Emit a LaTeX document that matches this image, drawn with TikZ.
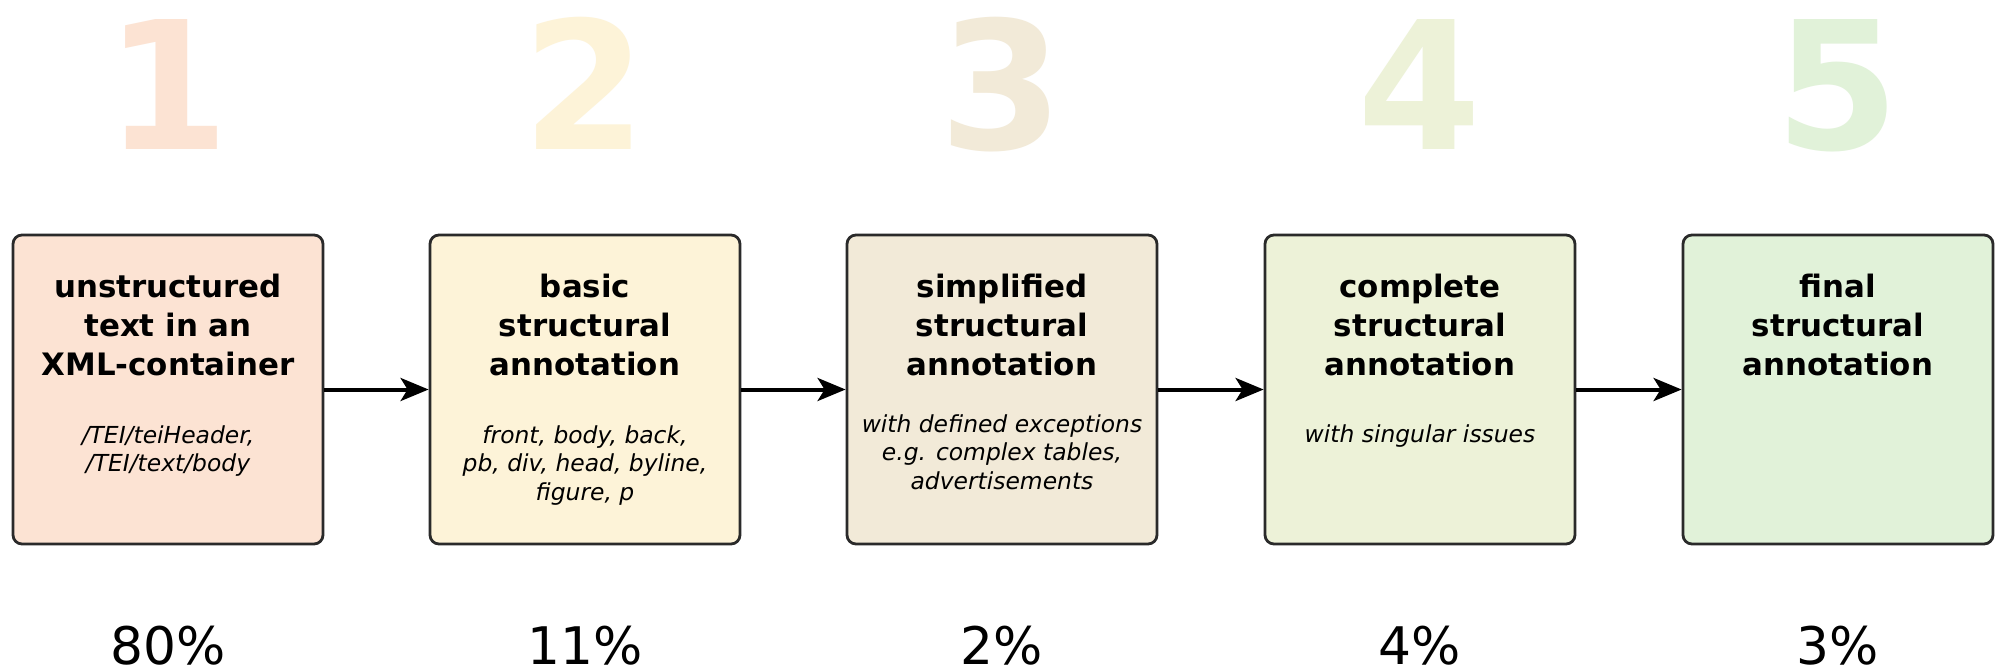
\documentclass[tikz,border=0pt]{standalone}
\usepackage{fontspec}
\setmainfont{DejaVu Sans}
\usetikzlibrary{arrows.meta}
\definecolor{c1}{HTML}{FCE3D3}
\definecolor{c2}{HTML}{FDF3D8}
\definecolor{c3}{HTML}{F2EAD8}
\definecolor{c4}{HTML}{EDF2D8}
\definecolor{c5}{HTML}{E1F2D9}
\definecolor{edge}{HTML}{2A2A2A}
\begin{document}
\begin{tikzpicture}[x=1bp,y=-1bp,
  stage/.style={draw=edge, line width=2.8bp, rounded corners=9bp, minimum width=310bp, minimum height=309bp, inner sep=0pt},
  ttl/.style={font=\fontsize{31}{39}\selectfont\bfseries, align=center, anchor=base, inner sep=0pt},
  sub/.style={font=\fontsize{23.5}{28.7}\selectfont\itshape, align=center, anchor=base, inner sep=0pt},
  bignum/.style={font=\fontsize{179}{179}\selectfont\bfseries, anchor=base, inner sep=0pt, text depth=0pt},
  pct/.style={font=\fontsize{52}{52}\selectfont, anchor=base, inner sep=0pt, text depth=0pt},
  flow/.style={line width=4bp, -{Stealth[length=28bp,width=23bp,inset=7bp]}}
]
\useasboundingbox (0,0) rectangle (1999,670);
\fill[white] (0,0) rectangle (1999,670);

% big step numbers
\node[bignum, text=c1] (n1) at (168,150) {1};
\node[bignum, text=c2] (n2) at (585,150) {2};
\node[bignum, text=c3] (n3) at (1002,150) {3};
\node[bignum, text=c4] (n4) at (1420,150) {4};
\node[bignum, text=c5] (n5) at (1838,150) {5};

% boxes
\node[stage, fill=c1] (b1) at (168,389.5) {};
\node[stage, fill=c2] (b2) at (585,389.5) {};
\node[stage, fill=c3] (b3) at (1002,389.5) {};
\node[stage, fill=c4] (b4) at (1420,389.5) {};
\node[stage, fill=c5] (b5) at (1838,389.5) {};

% titles (anchor = baseline of last line)
\node[ttl] (t1) at (168,375) {unstructured\\text in an\\XML-container};
\node[ttl] (t2) at (585,375) {basic\\structural\\annotation};
\node[ttl] (t3) at (1002,375) {simplified\\structural\\annotation};
\node[ttl] (t4) at (1420,375) {complete\\structural\\annotation};
\node[ttl] (t5) at (1838,375) {final\\structural\\annotation};

% subtitles (anchor = baseline of last line)
\node[sub] (s1) at (168,471.7) {/TEI/teiHeader,\\/TEI/text/body};
\node[sub] (s2) at (585,500.4) {front, body, back,\\pb, div, head, byline,\\figure, p};
\node[sub] (s3) at (1002,489.4) {with defined exceptions\\e.g. complex tables,\\advertisements};
\node[sub] (s4) at (1420,442) {with singular issues};

% arrows
\draw[flow] (b1.east) -- (b2.west);
\draw[flow] (b2.east) -- (b3.west);
\draw[flow] (b3.east) -- (b4.west);
\draw[flow] (b4.east) -- (b5.west);

% percentages
\node[pct] (p1) at (168,664) {80\%};
\node[pct] (p2) at (585,664) {11\%};
\node[pct] (p3) at (1002,664) {2\%};
\node[pct] (p4) at (1420,664) {4\%};
\node[pct] (p5) at (1838,664) {3\%};
\end{tikzpicture}
\end{document}
